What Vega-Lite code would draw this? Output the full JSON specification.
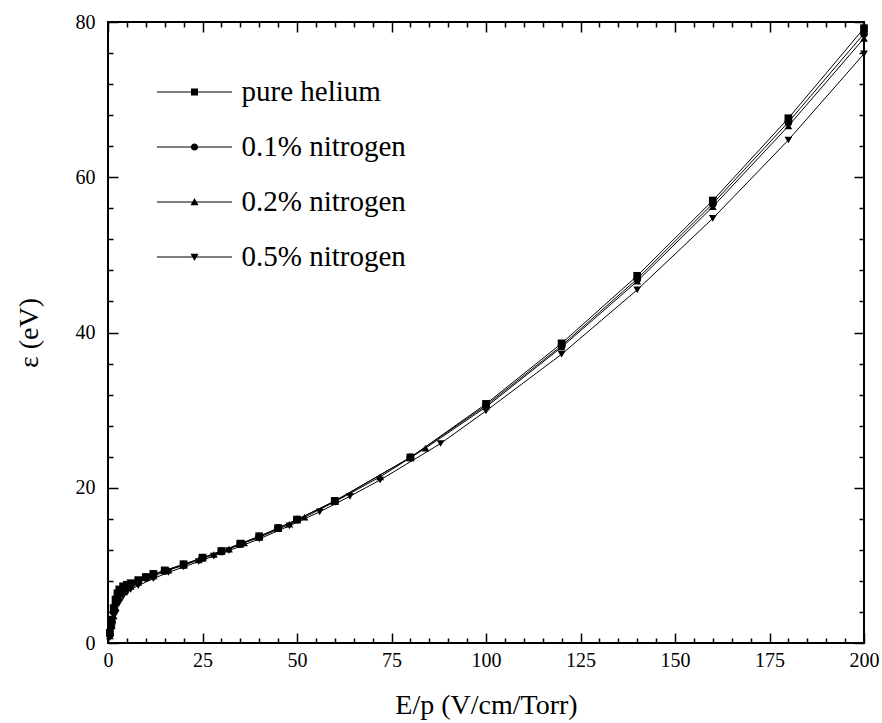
{
  "$schema": "https://vega.github.io/schema/vega-lite/v6.json",
  "width": 756,
  "height": 621,
  "autosize": {"type": "none"},
  "padding": {"left": 108, "top": 22, "right": 18, "bottom": 80},
  "background": "white",
  "config": {
    "view": {"stroke": "black", "strokeWidth": 2},
    "axis": {
      "domain": false,
      "grid": false,
      "tickColor": "black",
      "labelColor": "black",
      "titleColor": "black",
      "labelFont": "Liberation Serif",
      "titleFont": "Liberation Serif",
      "labelFontSize": 20,
      "titleFontSize": 28,
      "titleFontWeight": "normal",
      "labelFlush": false
    }
  },
  "data": {
    "values": [
      {"s": "pure helium", "x": 0.5, "y": 1.3},
      {"s": "pure helium", "x": 1, "y": 3.0},
      {"s": "pure helium", "x": 1.5, "y": 4.5},
      {"s": "pure helium", "x": 2, "y": 5.6},
      {"s": "pure helium", "x": 2.5, "y": 6.4},
      {"s": "pure helium", "x": 3, "y": 6.9},
      {"s": "pure helium", "x": 4, "y": 7.3},
      {"s": "pure helium", "x": 5, "y": 7.5},
      {"s": "pure helium", "x": 6, "y": 7.7},
      {"s": "pure helium", "x": 8, "y": 8.1},
      {"s": "pure helium", "x": 10, "y": 8.5},
      {"s": "pure helium", "x": 12, "y": 8.9},
      {"s": "pure helium", "x": 15, "y": 9.35},
      {"s": "pure helium", "x": 20, "y": 10.15},
      {"s": "pure helium", "x": 25, "y": 11.0},
      {"s": "pure helium", "x": 30, "y": 11.85},
      {"s": "pure helium", "x": 35, "y": 12.8},
      {"s": "pure helium", "x": 40, "y": 13.75},
      {"s": "pure helium", "x": 45, "y": 14.8},
      {"s": "pure helium", "x": 50, "y": 15.9},
      {"s": "pure helium", "x": 60, "y": 18.3},
      {"s": "pure helium", "x": 80, "y": 23.9},
      {"s": "pure helium", "x": 100, "y": 30.8},
      {"s": "pure helium", "x": 120, "y": 38.6},
      {"s": "pure helium", "x": 140, "y": 47.3},
      {"s": "pure helium", "x": 160, "y": 57.0},
      {"s": "pure helium", "x": 180, "y": 67.6},
      {"s": "pure helium", "x": 200, "y": 79.2},

      {"s": "0.1% nitrogen", "x": 0.5, "y": 1.1},
      {"s": "0.1% nitrogen", "x": 1, "y": 2.6},
      {"s": "0.1% nitrogen", "x": 1.5, "y": 4.0},
      {"s": "0.1% nitrogen", "x": 2, "y": 5.1},
      {"s": "0.1% nitrogen", "x": 3, "y": 6.4},
      {"s": "0.1% nitrogen", "x": 4, "y": 7.0},
      {"s": "0.1% nitrogen", "x": 5, "y": 7.3},
      {"s": "0.1% nitrogen", "x": 6, "y": 7.6},
      {"s": "0.1% nitrogen", "x": 8, "y": 8.0},
      {"s": "0.1% nitrogen", "x": 10, "y": 8.4},
      {"s": "0.1% nitrogen", "x": 12, "y": 8.8},
      {"s": "0.1% nitrogen", "x": 15, "y": 9.3},
      {"s": "0.1% nitrogen", "x": 20, "y": 10.1},
      {"s": "0.1% nitrogen", "x": 25, "y": 10.95},
      {"s": "0.1% nitrogen", "x": 30, "y": 11.8},
      {"s": "0.1% nitrogen", "x": 35, "y": 12.75},
      {"s": "0.1% nitrogen", "x": 40, "y": 13.7},
      {"s": "0.1% nitrogen", "x": 45, "y": 14.8},
      {"s": "0.1% nitrogen", "x": 50, "y": 15.9},
      {"s": "0.1% nitrogen", "x": 60, "y": 18.25},
      {"s": "0.1% nitrogen", "x": 80, "y": 23.9},
      {"s": "0.1% nitrogen", "x": 100, "y": 30.6},
      {"s": "0.1% nitrogen", "x": 120, "y": 38.3},
      {"s": "0.1% nitrogen", "x": 140, "y": 46.9},
      {"s": "0.1% nitrogen", "x": 160, "y": 56.6},
      {"s": "0.1% nitrogen", "x": 180, "y": 67.1},
      {"s": "0.1% nitrogen", "x": 200, "y": 78.5},

      {"s": "0.2% nitrogen", "x": 0.5, "y": 0.9},
      {"s": "0.2% nitrogen", "x": 1, "y": 2.2},
      {"s": "0.2% nitrogen", "x": 1.5, "y": 3.5},
      {"s": "0.2% nitrogen", "x": 2, "y": 4.6},
      {"s": "0.2% nitrogen", "x": 3, "y": 5.9},
      {"s": "0.2% nitrogen", "x": 4, "y": 6.6},
      {"s": "0.2% nitrogen", "x": 6, "y": 7.3},
      {"s": "0.2% nitrogen", "x": 8, "y": 7.8},
      {"s": "0.2% nitrogen", "x": 12, "y": 8.6},
      {"s": "0.2% nitrogen", "x": 16, "y": 9.4},
      {"s": "0.2% nitrogen", "x": 20, "y": 10.0},
      {"s": "0.2% nitrogen", "x": 24, "y": 10.7},
      {"s": "0.2% nitrogen", "x": 28, "y": 11.4},
      {"s": "0.2% nitrogen", "x": 32, "y": 12.1},
      {"s": "0.2% nitrogen", "x": 36, "y": 12.9},
      {"s": "0.2% nitrogen", "x": 40, "y": 13.6},
      {"s": "0.2% nitrogen", "x": 48, "y": 15.3},
      {"s": "0.2% nitrogen", "x": 52, "y": 16.2},
      {"s": "0.2% nitrogen", "x": 60, "y": 18.2},
      {"s": "0.2% nitrogen", "x": 72, "y": 21.4},
      {"s": "0.2% nitrogen", "x": 84, "y": 25.1},
      {"s": "0.2% nitrogen", "x": 100, "y": 30.4},
      {"s": "0.2% nitrogen", "x": 120, "y": 38.1},
      {"s": "0.2% nitrogen", "x": 140, "y": 46.6},
      {"s": "0.2% nitrogen", "x": 160, "y": 56.2},
      {"s": "0.2% nitrogen", "x": 180, "y": 66.6},
      {"s": "0.2% nitrogen", "x": 200, "y": 77.9},

      {"s": "0.5% nitrogen", "x": 0.5, "y": 0.7},
      {"s": "0.5% nitrogen", "x": 1, "y": 1.8},
      {"s": "0.5% nitrogen", "x": 2, "y": 3.8},
      {"s": "0.5% nitrogen", "x": 3, "y": 5.2},
      {"s": "0.5% nitrogen", "x": 4, "y": 6.0},
      {"s": "0.5% nitrogen", "x": 5, "y": 6.5},
      {"s": "0.5% nitrogen", "x": 6, "y": 6.9},
      {"s": "0.5% nitrogen", "x": 8, "y": 7.4},
      {"s": "0.5% nitrogen", "x": 12, "y": 8.3},
      {"s": "0.5% nitrogen", "x": 16, "y": 9.1},
      {"s": "0.5% nitrogen", "x": 20, "y": 9.8},
      {"s": "0.5% nitrogen", "x": 24, "y": 10.5},
      {"s": "0.5% nitrogen", "x": 28, "y": 11.2},
      {"s": "0.5% nitrogen", "x": 32, "y": 11.9},
      {"s": "0.5% nitrogen", "x": 40, "y": 13.4},
      {"s": "0.5% nitrogen", "x": 48, "y": 15.1},
      {"s": "0.5% nitrogen", "x": 56, "y": 16.9},
      {"s": "0.5% nitrogen", "x": 64, "y": 18.9},
      {"s": "0.5% nitrogen", "x": 72, "y": 21.0},
      {"s": "0.5% nitrogen", "x": 88, "y": 25.7},
      {"s": "0.5% nitrogen", "x": 100, "y": 29.9},
      {"s": "0.5% nitrogen", "x": 120, "y": 37.2},
      {"s": "0.5% nitrogen", "x": 140, "y": 45.5},
      {"s": "0.5% nitrogen", "x": 160, "y": 54.7},
      {"s": "0.5% nitrogen", "x": 180, "y": 64.8},
      {"s": "0.5% nitrogen", "x": 200, "y": 75.9}
    ]
  },
  "layer": [
    {
      "mark": {"type": "line", "color": "black", "strokeWidth": 1},
      "encoding": {
        "x": {
          "field": "x", "type": "quantitative",
          "scale": {"domain": [0, 200], "nice": false, "zero": false},
          "axis": {
            "orient": "bottom",
            "values": [0, 25, 50, 75, 100, 125, 150, 175, 200],
            "tickSize": -10, "tickWidth": 1.5, "labelPadding": 17,
            "title": "E/p (V/cm/Torr)", "titlePadding": 21
          }
        },
        "y": {
          "field": "y", "type": "quantitative",
          "scale": {"domain": [0, 80], "nice": false, "zero": false},
          "axis": {
            "orient": "left",
            "values": [0, 20, 40, 60, 80],
            "tickSize": -10, "tickWidth": 1.5, "labelPadding": 23,
            "title": "ε (eV)", "titlePadding": 32
          }
        },
        "detail": {"field": "s", "type": "nominal"}
      }
    },
    {
      "mark": {"type": "point", "filled": true, "color": "black", "opacity": 1, "size": 60},
      "encoding": {
        "x": {
          "field": "x", "type": "quantitative",
          "axis": {
            "orient": "bottom",
            "values": [5, 10, 15, 20, 30, 35, 40, 45, 55, 60, 65, 70, 80, 85, 90, 95, 105, 110, 115, 120, 130, 135, 140, 145, 155, 160, 165, 170, 180, 185, 190, 195],
            "tickSize": -5, "tickWidth": 1.5, "labels": false, "title": null
          }
        },
        "y": {
          "field": "y", "type": "quantitative",
          "axis": {
            "orient": "left",
            "values": [4, 8, 12, 16, 24, 28, 32, 36, 44, 48, 52, 56, 64, 68, 72, 76],
            "tickSize": -5, "tickWidth": 1.5, "labels": false, "title": null
          }
        },
        "shape": {
          "field": "s", "type": "nominal",
          "scale": {
            "domain": ["pure helium", "0.1% nitrogen", "0.2% nitrogen", "0.5% nitrogen"],
            "range": ["square", "circle", "triangle-up", "triangle-down"]
          },
          "legend": null
        }
      }
    },
    {
      "mark": {"type": "point", "opacity": 0},
      "encoding": {
        "x": {
          "field": "x", "type": "quantitative",
          "axis": {
            "orient": "top",
            "values": [0, 25, 50, 75, 100, 125, 150, 175, 200],
            "tickSize": -10, "tickWidth": 1.5, "labels": false, "title": null
          }
        },
        "y": {
          "field": "y", "type": "quantitative",
          "axis": {
            "orient": "right",
            "values": [0, 20, 40, 60, 80],
            "tickSize": -10, "tickWidth": 1.5, "labels": false, "title": null
          }
        }
      }
    },
    {
      "transform": [{"filter": "datum.x < 0"}],
      "mark": {"type": "point", "filled": true, "color": "black"},
      "encoding": {
        "x": {
          "field": "x", "type": "quantitative",
          "axis": {
            "orient": "top",
            "values": [5, 10, 15, 20, 30, 35, 40, 45, 55, 60, 65, 70, 80, 85, 90, 95, 105, 110, 115, 120, 130, 135, 140, 145, 155, 160, 165, 170, 180, 185, 190, 195],
            "tickSize": -5, "tickWidth": 1.5, "labels": false, "title": null
          }
        },
        "y": {
          "field": "y", "type": "quantitative",
          "axis": {
            "orient": "right",
            "values": [4, 8, 12, 16, 24, 28, 32, 36, 44, 48, 52, 56, 64, 68, 72, 76],
            "tickSize": -5, "tickWidth": 1.5, "labels": false, "title": null
          }
        },
        "shape": {
          "field": "s", "type": "nominal",
          "scale": {
            "domain": ["pure helium", "0.1% nitrogen", "0.2% nitrogen", "0.5% nitrogen"],
            "range": [
              "M-1.875,-0.03H-0.175V-0.175H0.175V-0.03H1.875V0.03H0.175V0.175H-0.175V0.03H-1.875Z",
              "M-1.875,-0.03H-0.177V0.03H-1.875Z M0.177,-0.03H1.875V0.03H0.177Z M0.18,0A0.18,0.18,0,1,1,-0.18,0A0.18,0.18,0,1,1,0.18,0Z",
              "M-1.875,-0.03H1.875V0.03H-1.875Z M0,-0.2L0.2,0.16L-0.2,0.16Z",
              "M-1.875,-0.03H1.875V0.03H-1.875Z M0,0.2L-0.2,-0.16L0.2,-0.16Z"
            ]
          },
          "legend": {
            "orient": "none",
            "legendX": 66.5,
            "legendY": 50,
            "title": null,
            "padding": 0,
            "symbolSize": 1600,
            "symbolFillColor": "black",
            "symbolStrokeWidth": 0,
            "symbolOpacity": 1,
            "labelOffset": 27,
            "rowPadding": 20,
            "labelFont": "Liberation Serif",
            "labelFontSize": 29,
            "labelColor": "black",
            "labelLimit": 500
          }
        }
      }
    }
  ],
  "resolve": {
    "axis": {"x": "independent", "y": "independent"},
    "scale": {"shape": "independent"}
  }
}
